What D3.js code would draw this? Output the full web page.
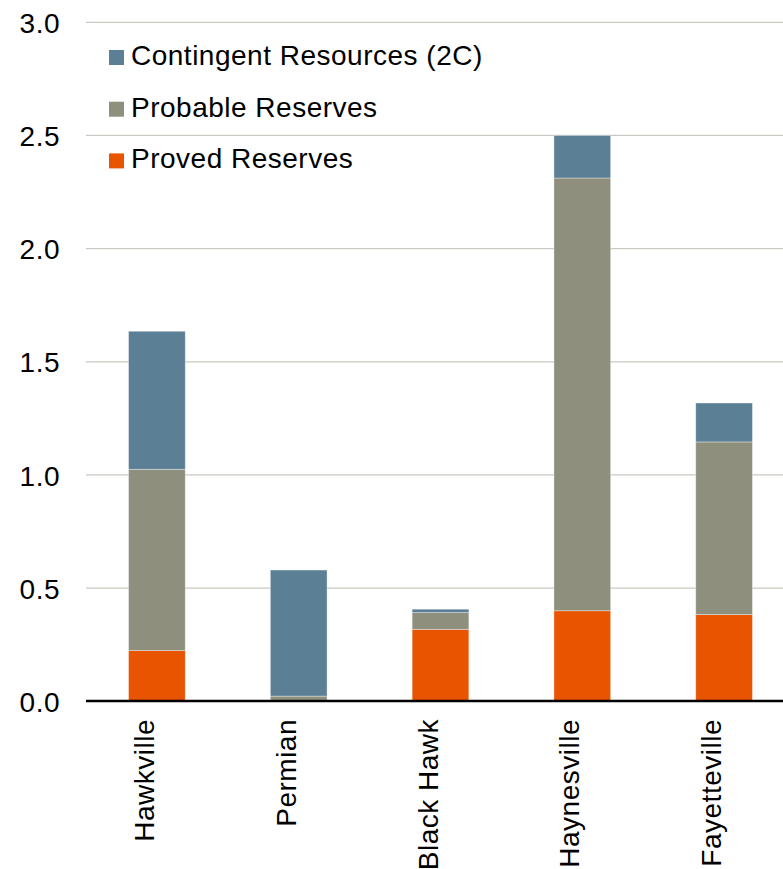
<!DOCTYPE html>
<html>
<head>
<meta charset="utf-8">
<script src="https://cdn.jsdelivr.net/npm/d3@7"></script>
<style>
  body { margin: 0; background: #fff; }
  text { font-family: "Liberation Sans", Arial, sans-serif; fill: #000; letter-spacing: 0.5px; }
</style>
</head>
<body>
<svg id="chart"></svg>
<script>
// data (units as on the y axis)
let fields = ["Hawkville", "Permian", "Black Hawk", "Haynesville", "Fayetteville"];
let proved = [0.224, 0.005, 0.318, 0.400, 0.383];
let probable = [0.801, 0.018, 0.074, 1.912, 0.763];
let contingent = [0.610, 0.557, 0.015, 0.188, 0.172];
let seriesNames = ["Proved Reserves", "Probable Reserves", "Contingent Resources (2C)"];
let seriesColors = ["#e85400", "#8f8f7e", "#5b7f95"];
let yTicks = [0, 0.5, 1.0, 1.5, 2.0, 2.5, 3.0];

function drawChart() {
    let width = 783, height = 869;
    let left = 86, top = 22.3, bottom = 701.3;
    let svg = d3.select("#chart").attr("width", width).attr("height", height);

    let rows = fields.map(function (f, i) {
        return {field: f, proved: proved[i], probable: probable[i], contingent: contingent[i]};
    });
    let stack = d3.stack().keys(["proved", "probable", "contingent"]);
    let layers = stack(rows);

    let x = d3.scaleBand().domain(fields).range([left, left + 709])
        .paddingInner(0.6).paddingOuter(0.3);
    let y = d3.scaleLinear().domain([0, 3]).range([bottom, top]);

    // gridlines
    svg.append("g").selectAll("line").data(yTicks.slice(1)).enter().append("line")
        .attr("x1", left).attr("x2", width)
        .attr("y1", d => y(d)).attr("y2", d => y(d))
        .attr("stroke", "#c9c9c1").attr("stroke-width", 1.2);

    // y labels
    let yAxis = d3.axisLeft(y).tickValues(yTicks).tickFormat(d3.format(".1f")).tickSize(0).tickPadding(26);
    let yg = svg.append("g").attr("transform", "translate(" + left + ",0)").call(yAxis);
    yg.select(".domain").remove();
    yg.selectAll("text").attr("font-size", 28).attr("font-family", "Liberation Sans, Arial, sans-serif")
        .attr("fill", "#000").attr("dy", "0.36em");

    // bars
    svg.append("g").selectAll("g").data(layers).enter().append("g")
        .attr("fill", (d, i) => seriesColors[i])
        .selectAll("rect").data(d => d).enter().append("rect")
        .attr("x", d => x(d.data.field))
        .attr("width", x.bandwidth())
        .attr("y", d => y(d[1]))
        .attr("height", d => y(d[0]) - y(d[1]))
        .attr("stroke", "#ffffff").attr("stroke-opacity", 0.45).attr("stroke-width", 0.8);

    // x axis line
    svg.append("line").attr("x1", left).attr("x2", width)
        .attr("y1", bottom - 0.3).attr("y2", bottom - 0.3)
        .attr("stroke", "#000").attr("stroke-width", 2.4);

    // category labels, rotated
    svg.append("g").selectAll("text").data(fields).enter().append("text")
        .attr("transform", d => "translate(" + (x(d) + x.bandwidth() / 2 - 3) + ",719) rotate(-90)")
        .attr("text-anchor", "end")
        .attr("font-size", 28)
        .text(d => d);

    // legend, contingent on top
    let legendOrder = [2, 1, 0];
    let leg = svg.append("g").selectAll("g").data(legendOrder).enter().append("g")
        .attr("transform", (d, i) => "translate(109," + (65 + i * 51.7) + ")");
    leg.append("rect").attr("x", 0).attr("y", -15).attr("width", 15).attr("height", 15)
        .attr("fill", d => seriesColors[d]);
    leg.append("text").attr("x", 22).attr("y", 0).attr("font-size", 28)
        .text(d => seriesNames[d]);
}

drawChart();
</script>
</body>
</html>
